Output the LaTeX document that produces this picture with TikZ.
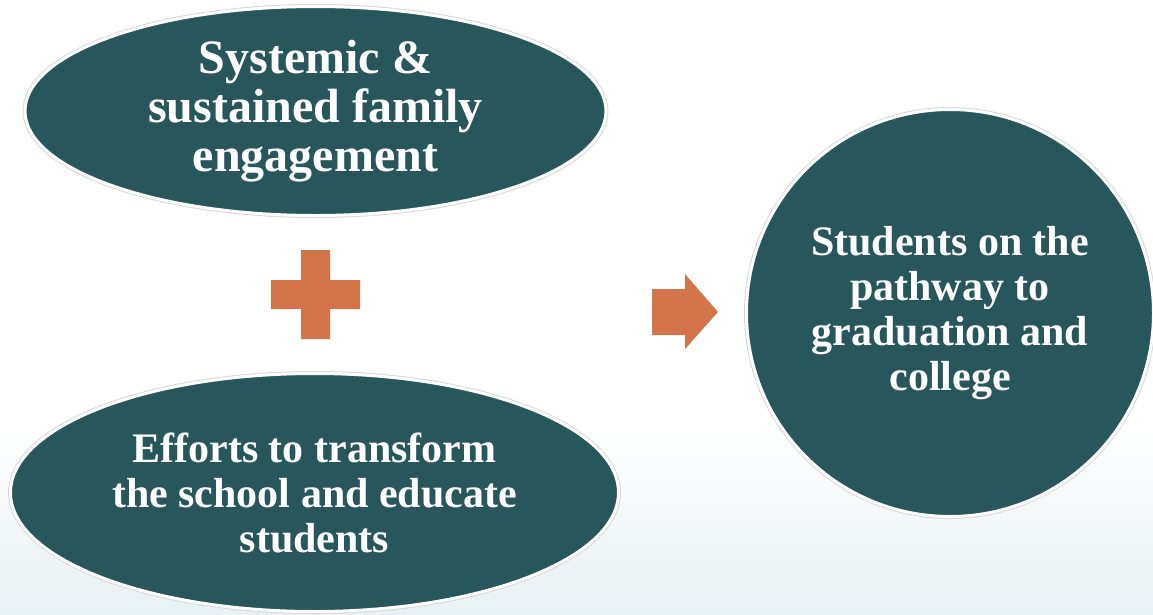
\documentclass[tikz,border=0pt]{standalone}
\usepackage{fontspec}
\setmainfont{Liberation Serif}
\usepackage{tikz}
\usetikzlibrary{shapes.geometric,positioning}
\definecolor{slate}{RGB}{39,87,91}
\definecolor{rust}{RGB}{212,116,74}
\definecolor{haze}{RGB}{232,241,244}

\begin{document}
\begin{tikzpicture}[
    x=1pt, y=-1pt,
    blob/.style={ellipse, fill=slate, draw=white, line width=3pt, inner sep=0pt, text=white, align=center,
        preaction={draw=gray!30, line width=5pt}},
    goal/.style={blob, circle},
    sign/.style={fill=rust}
]
    \useasboundingbox (0,0) rectangle (1153,614);
    \fill[white] (0,0) rectangle (1153,614);
    \shade[top color=white, bottom color=haze] (0,430) rectangle (1153,614);

    \node[blob, minimum width=581pt, minimum height=209pt, font=\bfseries\fontsize{48}{49}\selectfont] (family) at (315.5,111) {Systemic \&\\sustained family\\engagement};
    \node[blob, minimum width=608pt, minimum height=238pt, font=\bfseries\fontsize{42}{45}\selectfont] (school) at (314.5,492.5) {Efforts to transform\\the school and educate\\students};
    \node[goal, minimum size=407pt, font=\bfseries\fontsize{42}{45}\selectfont] (pathway) at (950,313) {Students on the\\pathway to\\graduation and\\college};

    % plus between the two ovals
    \coordinate (plus) at (315.5,294.5);
    \fill[sign] ([shift={(-14.5,-44.5)}]plus) -- ++(29,0) -- ++(0,30) -- ++(30,0) -- ++(0,29) -- ++(-30,0) -- ++(0,30)
        -- ++(-29,0) -- ++(0,-30) -- ++(-30,0) -- ++(0,-29) -- ++(30,0) -- cycle;

    % block arrow towards the circle
    \coordinate (push) at (652,289);
    \fill[sign] (push) -- ++(33,0) -- ++(0,-15) -- ++(33,38) -- ++(-33,37) -- ++(0,-14) -- ++(-33,0) -- cycle;
\end{tikzpicture}
\end{document}
